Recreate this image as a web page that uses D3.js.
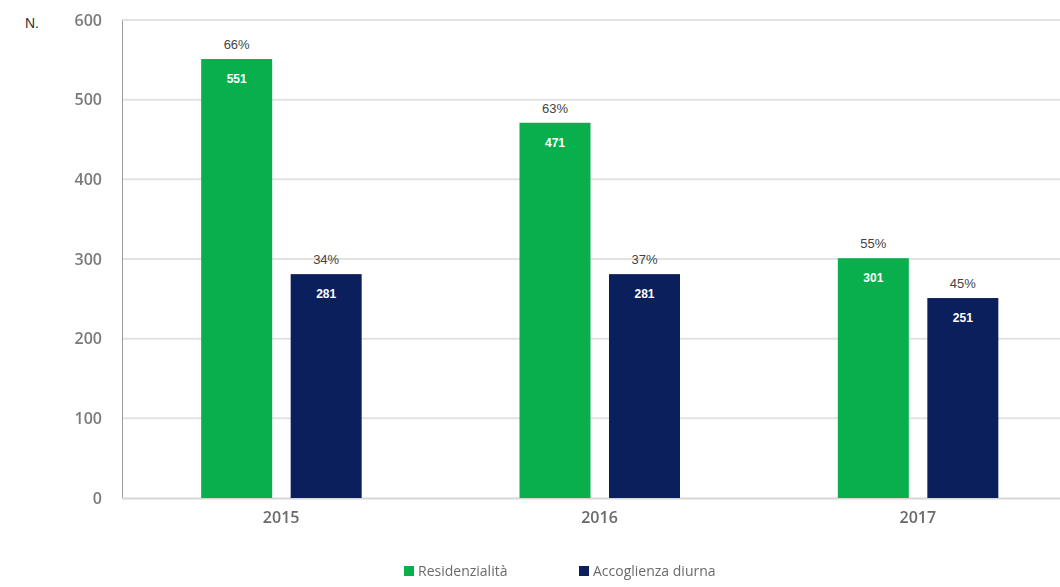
<!DOCTYPE html>
<html>
<head>
<meta charset="utf-8">
<script src="https://cdn.jsdelivr.net/npm/d3@7"></script>
<style>
  html, body { margin: 0; padding: 0; background: #fff; }
  svg { display: block; }
</style>
</head>
<body>
<svg id="chart" width="1060" height="587"></svg>
<script>
// Anni e serie
const years = ["2015", "2016", "2017"];
const seriesNames = ["Residenzialità", "Accoglienza diurna"];
const residenzialita = [551, 471, 301];
const accoglienzaDiurna = [281, 281, 251];
const pctResidenzialita = ["66%", "63%", "55%"];
const pctAccoglienza = ["34%", "37%", "45%"];
const yTicks = [0, 100, 200, 300, 400, 500, 600];
const colors = ["#0aaf4d", "#0b1f5c"];

const svg = d3.select("#chart");
const W = 1060;
const plotLeft = 122, plotRight = 1077, plotTop = 20, plotBottom = 498;

// Soft text look for axis and legend labels
const defs = svg.append("defs");
defs.append("filter").attr("id", "soft")
  .append("feGaussianBlur").attr("stdDeviation", 0.6);

const x = d3.scaleBand().domain(years).range([plotLeft, plotRight]);
const y = d3.scaleLinear().domain([0, 600]).range([plotBottom, plotTop]);

// Grid lines
svg.append("g").selectAll("line")
  .data(yTicks.filter(d => d > 0))
  .join("line")
  .attr("x1", plotLeft).attr("x2", W)
  .attr("y1", d => y(d)).attr("y2", d => y(d))
  .attr("stroke", "#e2e2e2").attr("stroke-width", 2);

// Y axis
const yAxis = svg.append("g")
  .attr("transform", `translate(${plotLeft},0)`)
  .call(d3.axisLeft(y).tickValues(yTicks).tickSize(0).tickPadding(20));
yAxis.select(".domain").attr("stroke", "#9a9a9a").attr("stroke-width", 1);
yAxis.selectAll("text")
  .attr("font-family", "'Open Sans', sans-serif")
  .attr("font-size", 16).attr("font-weight", 600).attr("fill", "#7a7a7a")
  .attr("filter", "url(#soft)");

// X axis
const xAxis = svg.append("g")
  .attr("transform", `translate(0,${plotBottom})`)
  .call(d3.axisBottom(x).tickSize(0).tickPadding(14));
xAxis.select(".domain").attr("stroke", "#d6d6d6").attr("stroke-width", 2);
xAxis.selectAll("text")
  .attr("font-family", "'Open Sans', sans-serif")
  .attr("font-size", 16).attr("font-weight", 600).attr("fill", "#6a6a6a")
  .attr("filter", "url(#soft)");

// Unit label
svg.append("text")
  .attr("x", 25).attr("y", 28)
  .attr("font-family", "Arial, 'Liberation Sans', sans-serif")
  .attr("font-size", 14).attr("fill", "#333")
  .text("N.");

// Bars
const barW = 71;
const offsets = [-44.5, 45];
const series = [
  { values: residenzialita, pct: pctResidenzialita },
  { values: accoglienzaDiurna, pct: pctAccoglienza }
];

series.forEach((s, si) => {
  const g = svg.append("g");
  const cx = i => x(years[i]) + x.bandwidth() / 2 + offsets[si];
  g.selectAll("rect")
    .data(s.values)
    .join("rect")
    .attr("x", (d, i) => cx(i) - barW / 2)
    .attr("y", d => y(d))
    .attr("width", barW)
    .attr("height", d => y(0) - y(d))
    .attr("fill", colors[si]);

  g.selectAll("text.val")
    .data(s.values)
    .join("text")
    .attr("class", "val")
    .attr("x", (d, i) => cx(i))
    .attr("y", d => y(d) + 24)
    .attr("text-anchor", "middle")
    .attr("font-family", "Arial, 'Liberation Sans', sans-serif")
    .attr("font-weight", "bold")
    .attr("font-size", 12).attr("fill", "#fff")
    .text(d => d);

  g.selectAll("text.pct")
    .data(s.values)
    .join("text")
    .attr("class", "pct")
    .attr("x", (d, i) => cx(i))
    .attr("y", d => y(d) - 10)
    .attr("text-anchor", "middle")
    .attr("font-family", "Arial, 'Liberation Sans', sans-serif")
    .attr("font-size", 13).attr("fill", "#444")
    .text((d, i) => s.pct[i]);
});

// Legend
const legendItems = [
  { name: seriesNames[0], color: colors[0], x: 404 },
  { name: seriesNames[1], color: colors[1], x: 579 }
];
const lg = svg.append("g");
legendItems.forEach(it => {
  lg.append("rect")
    .attr("x", it.x).attr("y", 566)
    .attr("width", 10).attr("height", 10)
    .attr("fill", it.color);
  lg.append("text")
    .attr("x", it.x + 14).attr("y", 576)
    .attr("font-family", "'Open Sans', sans-serif")
    .attr("font-size", 14).attr("fill", "#6a6a6a")
    .attr("filter", "url(#soft)")
    .text(it.name);
});
</script>
</body>
</html>
